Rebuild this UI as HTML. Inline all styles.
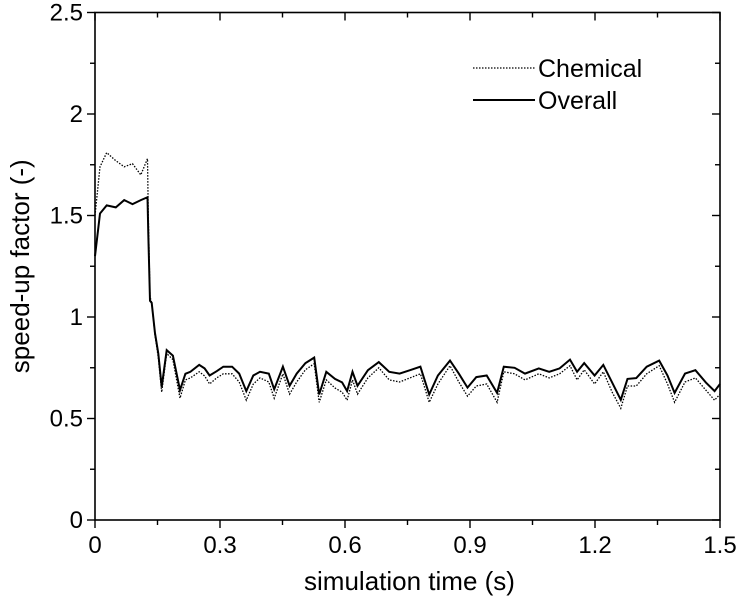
<!DOCTYPE html>
<html><head><meta charset="utf-8">
<style>
html,body{margin:0;padding:0;background:#fff;}
svg{display:block;font-family:"Liberation Sans",Arial,sans-serif;}
</style></head>
<body>
<svg id="chart" width="743" height="610" viewBox="0 0 743 610"></svg>
<script>
const xTicks=[0,0.3,0.6,0.9,1.2,1.5];
const xTickLabels=["0","0.3","0.6","0.9","1.2","1.5"];
const yTicks=[0,0.5,1,1.5,2,2.5];
const yTickLabels=["0","0.5","1","1.5","2","2.5"];
const times=[0,0.012,0.028,0.05,0.07,0.09,0.11,0.126,0.128,0.132,0.136,0.144,0.152,0.16,0.172,0.187,0.204,0.217,0.229,0.25,0.263,0.275,0.292,0.308,0.329,0.346,0.363,0.38,0.396,0.417,0.43,0.451,0.467,0.484,0.505,0.526,0.538,0.555,0.576,0.593,0.605,0.618,0.63,0.655,0.681,0.706,0.731,0.756,0.781,0.802,0.823,0.852,0.873,0.894,0.915,0.94,0.965,0.981,1.007,1.032,1.065,1.09,1.115,1.14,1.157,1.174,1.199,1.22,1.241,1.262,1.278,1.299,1.324,1.354,1.374,1.391,1.416,1.441,1.466,1.487,1.5];
const overall=[1.3,1.51,1.55,1.54,1.576,1.556,1.576,1.59,1.41,1.08,1.07,0.92,0.82,0.655,0.837,0.81,0.64,0.72,0.73,0.764,0.747,0.712,0.733,0.755,0.755,0.721,0.635,0.712,0.73,0.721,0.644,0.755,0.661,0.721,0.773,0.8,0.618,0.73,0.695,0.678,0.635,0.73,0.661,0.738,0.778,0.73,0.721,0.738,0.755,0.618,0.712,0.785,0.721,0.652,0.704,0.712,0.626,0.755,0.75,0.721,0.747,0.73,0.747,0.79,0.73,0.773,0.712,0.764,0.678,0.592,0.695,0.699,0.755,0.785,0.712,0.626,0.721,0.738,0.678,0.635,0.67];
const chemical=[1.5,1.74,1.81,1.77,1.74,1.755,1.70,1.78,1.5,1.1,1.07,0.91,0.8,0.63,0.82,0.79,0.6,0.69,0.7,0.73,0.71,0.67,0.7,0.72,0.72,0.68,0.59,0.67,0.7,0.68,0.6,0.72,0.62,0.68,0.74,0.77,0.58,0.69,0.65,0.63,0.59,0.69,0.62,0.7,0.75,0.69,0.68,0.7,0.72,0.58,0.67,0.76,0.68,0.61,0.66,0.67,0.58,0.73,0.72,0.69,0.72,0.7,0.72,0.76,0.69,0.74,0.67,0.73,0.63,0.55,0.66,0.66,0.72,0.76,0.67,0.58,0.68,0.7,0.64,0.59,0.62];

const NS="http://www.w3.org/2000/svg";
const svg=document.getElementById('chart');
const L=95,R=720,T=12.5,B=520;
const xs=v=>L+(v/1.5)*(R-L);
const ys=v=>B-(v/2.5)*(B-T);
function mk(tag,attrs,parent){const e=document.createElementNS(NS,tag);for(const k in attrs)e.setAttribute(k,attrs[k]);(parent||svg).appendChild(e);return e;}

const frame=mk('rect',{x:L,y:T,width:R-L,height:B-T,fill:'none',stroke:'#000','stroke-width':1.6});



for(let i=0;i<=10;i++){
  const v=i*0.15, x=xs(v), major=i%2===0;
  const len=major?8:5;
  const tb=mk('line',{x1:x,y1:B,x2:x,y2:B+len,stroke:'#000','stroke-width':1.4});
  
  
  const tt=mk('line',{x1:x,y1:T,x2:x,y2:T+len,stroke:'#000','stroke-width':1.4});
  
  
}
xTicks.forEach((v,i)=>{
  const t=mk('text',{x:xs(v),y:B+33,'text-anchor':'middle','font-size':24,fill:'#000'});
  t.textContent=xTickLabels[i];
  
  
});
for(let i=0;i<=10;i++){
  const v=i*0.25, y=ys(v), major=i%2===0;
  const len=major?8:5;
  const tl=mk('line',{x1:L-len,y1:y,x2:L,y2:y,stroke:'#000','stroke-width':1.4});
  
  
  const tr=mk('line',{x1:R-len,y1:y,x2:R,y2:y,stroke:'#000','stroke-width':1.4});
  
  
}
yTicks.forEach((v,i)=>{
  const t=mk('text',{x:L-12,y:ys(v)+8,'text-anchor':'end','font-size':24,fill:'#000'});
  t.textContent=yTickLabels[i];
  
  
});
const xt=mk('text',{x:(L+R)/2+2,y:590,'text-anchor':'middle','font-size':26,fill:'#000'});
xt.textContent='simulation time (s)';


const yt=mk('text',{x:0,y:0,'text-anchor':'middle','font-size':26,fill:'#000',transform:`translate(29,${(T+B)/2}) rotate(-90)`});
yt.textContent='speed-up factor (-)';



function pathOf(vals){return vals.map((v,i)=>(i?'L':'M')+xs(times[i]).toFixed(1)+' '+ys(v).toFixed(1)).join(' ');}
const chem=mk('path',{d:pathOf(chemical),fill:'none',stroke:'#000','stroke-width':1.3,'stroke-dasharray':'1.5 1.5'});


const ov=mk('path',{d:pathOf(overall),fill:'none',stroke:'#000','stroke-width':2});



const g=mk('g',{});


const l1=mk('line',{x1:473,y1:68,x2:535,y2:68,stroke:'#000','stroke-width':1.3,'stroke-dasharray':'1.5 1.5'},g);


const t1=mk('text',{x:538,y:77,'font-size':25,fill:'#000'},g);
t1.textContent='Chemical';


const l2=mk('line',{x1:473,y1:100,x2:535,y2:100,stroke:'#000','stroke-width':2},g);


const t2=mk('text',{x:538,y:109,'font-size':25,fill:'#000'},g);
t2.textContent='Overall';


</script>
</body></html>
